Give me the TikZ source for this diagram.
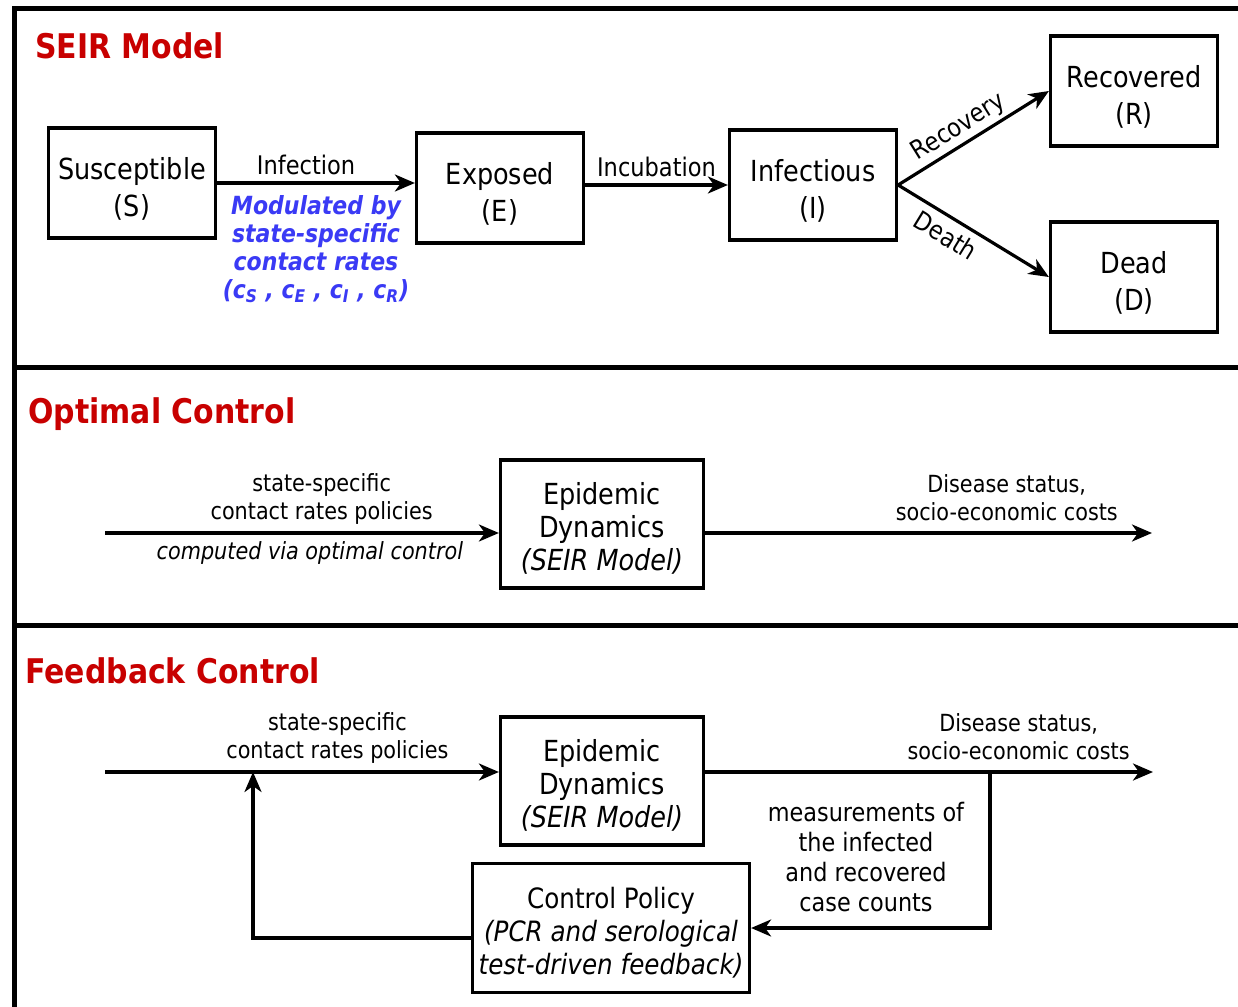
\documentclass[tikz,border=0pt]{standalone}
\usepackage{fontspec}
\setmainfont{DejaVu Sans}[FakeStretch=0.88]
\usetikzlibrary{arrows.meta,positioning}

\definecolor{titlered}{RGB}{200,0,0}
\definecolor{rateblue}{RGB}{58,58,245}
% pushes the first line of a box down a little
\newcommand{\padtop}[1]{\rule{0pt}{#1}}

\tikzset{
  flow/.style={-{Stealth[length=10pt,width=8.5pt,inset=3pt]}, line width=1.6pt},
  compartment/.style={rectangle, draw, line width=1.6pt, minimum width=83.5pt, minimum height=55pt,
    align=center, inner sep=0pt, font=\fontsize{14.5}{18.5}\selectfont},
  blockbox/.style={rectangle, draw, line width=1.6pt, minimum height=64pt,
    align=center, inner sep=0pt, font=\fontsize{14.5}{16.5}\selectfont},
  ratelabel/.style={font=\fontsize{12.8}{14}\selectfont},
  ratetext/.style={align=center, text=rateblue, font=\fontsize{12.5}{14}\selectfont\bfseries\itshape},
  sigtext/.style={align=center, font=\fontsize{11.8}{14}\selectfont},
  measuretext/.style={align=center, font=\fontsize{12.7}{15}\selectfont},
  paneltitle/.style={anchor=west, inner sep=0pt, text=titlered, font=\fontsize{17}{20}\selectfont\bfseries},
  panelrule/.style={line width=2.5pt}
}

\begin{document}
\begin{tikzpicture}[x=0.5pt,y=-0.5pt]
  \useasboundingbox[fill=white] (0,0) rectangle (1238,1007);
  % panel frame
  \draw[panelrule] (14,1007) -- (14,8) -- (1238,8);
  \draw[panelrule] (14,367) -- (1238,367);
  \draw[panelrule] (14,625) -- (1238,625);

  % SEIR model
  \node[paneltitle] (seirtitle) at (35,46) {SEIR Model};
  \node[compartment] (S) at (132,183) {\padtop{17pt}Susceptible\\(S)};
  \node[compartment] (E) at (500,188) {\padtop{17pt}Exposed\\(E)};
  \node[compartment] (I) at (813,185) {\padtop{17pt}Infectious\\(I)};
  \node[compartment] (R) at (1134,91) {\padtop{17pt}Recovered\\(R)};
  \node[compartment] (D) at (1134,277) {\padtop{17pt}Dead\\(D)};
  \draw[flow] (S.east) -- node[ratelabel, above, pos=0.45] (infection) {Infection}
    node[ratetext, below, yshift=-2pt] (modulated) {Modulated by\\state-specific\\contact rates\\(c\textsubscript{S} , c\textsubscript{E} , c\textsubscript{I} , c\textsubscript{R})}
    (S.east -| E.west);
  \draw[flow] (E.east |- I.west) -- node[ratelabel, above] (incubation) {Incubation} (I.west);
  \draw[flow] (I.east) -- node[ratelabel, above, sloped, pos=0.46, inner sep=1.5pt] (recovery) {Recovery} (R.west);
  \draw[flow] (I.east) -- node[ratelabel, below, sloped, pos=0.38] (death) {Death} (D.west);

  % optimal control
  \node[paneltitle] (opttitle) at (28,414) {Optimal Control};
  \node[blockbox, minimum width=101.5pt] (oed) at (602,524) {\padtop{15pt}Epidemic\\Dynamics\\\textit{(SEIR Model)}};
  \coordinate (oin) at (105,533);
  \coordinate (oout) at (1152,533);
  \draw[flow] (oin) -- node[sigtext, above, pos=0.55] (opolicy) {state-specific\\contact rates policies}
    node[sigtext, below, pos=0.52] (ovia) {\textit{computed via optimal control}} (oin -| oed.west);
  \draw[flow] (oin -| oed.east) -- node[sigtext, above, pos=0.675, yshift=2pt] (ostatus) {Disease status,\\socio-economic costs} (oout);

  % feedback control
  \node[paneltitle] (fbtitle) at (25,671) {Feedback Control};
  \node[blockbox, minimum width=101.5pt] (fed) at (602,781) {\padtop{15pt}Epidemic\\Dynamics\\\textit{(SEIR Model)}};
  \node[blockbox, minimum width=138.5pt, minimum height=64.5pt, font=\fontsize{14}{16.5}\selectfont] (cp) at (611,928)
    {\padtop{15pt}Control Policy\\\textit{(PCR and serological}\\\textit{test-driven feedback)}};
  \coordinate (fin) at (105,772);
  \coordinate (fout) at (1153,772);
  \coordinate (tap) at (990,772);
  \coordinate (ret) at (253,772);
  \draw[flow] (fin) -- node[sigtext, above, pos=0.59] (fpolicy) {state-specific\\contact rates policies} (fin -| fed.west);
  \draw[flow] (fin -| fed.east) -- node[sigtext, above, pos=0.70, yshift=2pt] (fstatus) {Disease status,\\socio-economic costs} (fout);
  \draw[flow] (tap) |- (cp.east);
  \draw[flow] ([yshift=-5pt]cp.west) -| (ret);
  \node[measuretext] (measure) at (866,857) {measurements of\\the infected\\and recovered\\case counts};
\end{tikzpicture}
\end{document}
